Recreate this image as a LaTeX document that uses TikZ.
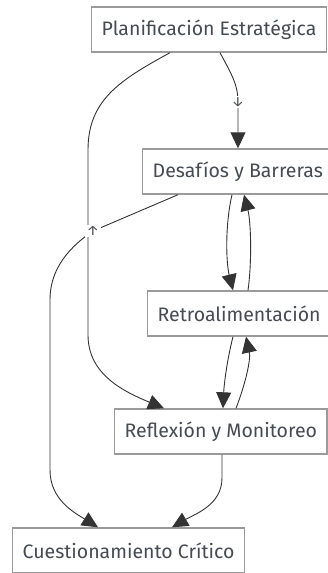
\documentclass[tikz,border=0pt]{standalone}
\usepackage{fontspec}
\setmainfont{Fira Sans}
\usepackage{xcolor}
\usetikzlibrary{arrows.meta,calc}
\definecolor{boxline}{HTML}{9A9A9A}
\definecolor{boxtext}{HTML}{454B52}
\definecolor{edgeline}{HTML}{333333}

\begin{document}
\begin{tikzpicture}[x=1pt, y=-1pt,
		box/.style={draw=boxline, line width=1.4pt, fill=white, text=boxtext,
			anchor=west, minimum height=45pt, inner xsep=10pt, font=\fontsize{19.5}{22}\selectfont},
		edge/.style={draw=edgeline, line width=0.9pt, -{Triangle[length=16pt,width=15pt]}},
		elabel/.style={fill=white, text=boxtext, inner sep=1.5pt, font=\fontsize{14}{15}\selectfont}]
	\useasboundingbox (0,0) rectangle (327,573);
	% nodes
	\node[box] (plan) at (91,29.5) {Planificación Estratégica};
	\node[box] (desafios) at (142,171.5) {Desafíos y Barreras};
	\node[box] (retro) at (147,313.5) {Retroalimentación};
	\node[box] (reflexion) at (114,431.5) {Reflexión y Monitoreo};
	\node[box] (cuestion) at (12,550.5) {Cuestionamiento Crítico};
	% planificacion -> reflexion (long way round on the left)
	\draw[edge] ($(plan.south west)+(79,0)$) .. controls (120,80) and (88,100) .. (88,150)
		-- (88,335) .. controls (88,375) and (125,392) .. ($(reflexion.north west)+(50,0)$);
	% planificacion -> desafios
	\draw[edge] ($(plan.south west)+(129,0)$) .. controls (232,75) and (238,85) .. (238,102)
		node[elabel] {↓} -- ($(desafios.north west)+(96,0)$);
	% desafios -> cuestionamiento
	\draw[edge] ($(desafios.south west)+(36,0)$) -- (93,231) node[elabel, pos=1] {↑}
		.. controls (62,252) and (50,275) .. (50,300) -- (50,470)
		.. controls (50,500) and (75,513) .. ($(cuestion.north west)+(86,0)$);
	% desafios <-> retroalimentacion
	\draw[edge] ($(desafios.south west)+(90,0)$) .. controls (225,225) and (226,262) .. ($(retro.north west)+(86,0)$);
	\draw[edge] ($(retro.north west)+(101,0)$) .. controls (252,262) and (251,222) .. ($(desafios.south west)+(102,0)$);
	% retroalimentacion <-> reflexion
	\draw[edge] ($(retro.south west)+(86,0)$) .. controls (227,360) and (224,385) .. ($(reflexion.north west)+(109,0)$);
	\draw[edge] ($(reflexion.north west)+(122,0)$) .. controls (245,385) and (251,360) .. ($(retro.south west)+(99,0)$);
	% reflexion -> cuestionamiento
	\draw[edge] ($(reflexion.south west)+(108,0)$) -- (222,478)
		.. controls (222,505) and (195,514) .. ($(cuestion.north west)+(160,0)$);
\end{tikzpicture}
\end{document}
